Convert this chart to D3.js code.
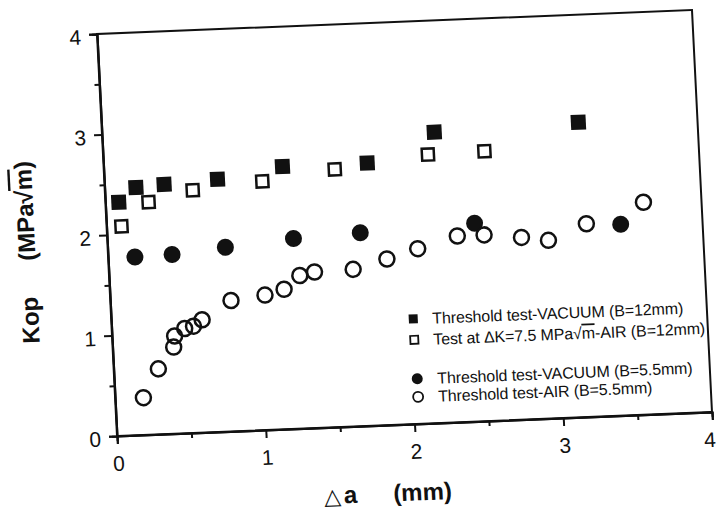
<!DOCTYPE html>
<html><head><meta charset="utf-8">
<script src="https://cdn.jsdelivr.net/npm/d3@7"></script>
<style>body{margin:0;background:#fff}svg{display:block}text{font-family:"Liberation Sans",Arial,sans-serif;fill:#111}</style>
</head><body>
<script>
// Data (Δa in mm, Kop in MPa√m)
const vacuum12X = [0.09,0.21,0.40,0.76,1.20,1.77,2.23,3.20];
const vacuum12Y = [2.32,2.46,2.48,2.51,2.61,2.61,2.89,2.93];
const air12X = [0.10,0.29,0.59,1.06,1.55,2.18,2.56];
const air12Y = [2.08,2.31,2.41,2.47,2.56,2.67,2.68];
const vacuum55X = [0.18,0.43,0.79,1.25,1.70,2.47,3.45];
const vacuum55Y = [1.77,1.78,1.83,1.89,1.92,1.97,1.90];
const air55X = [0.19,0.30,0.41,0.42,0.49,0.55,0.61,0.81,1.04,1.17,1.28,1.38,1.64,1.87,2.08,2.35,2.53,2.78,2.96,3.22,3.61];
const air55Y = [0.37,0.65,0.86,0.97,1.04,1.06,1.12,1.30,1.34,1.39,1.52,1.55,1.56,1.65,1.74,1.85,1.85,1.81,1.77,1.92,2.11];
const xTicks = [0,1,2,3,4];
const yTicks = [0,1,2,3,4];
const minorTicks = [0.5,1.5,2.5,3.5];
const legendLabels = ["Threshold test-VACUUM (B=12mm)","Test at ΔK=7.5 MPa√m-AIR (B=12mm)","Threshold test-VACUUM (B=5.5mm)","Threshold test-AIR (B=5.5mm)"];

const W=716,H=514, PW=596, PH=402;
const svg=d3.select("body").append("svg").attr("width",W).attr("height",H);
// slight skew/rotation as in the scanned figure
const g=svg.append("g").attr("transform","matrix(0.9983,-0.0403,0.04975,1,97,34)");
const x=d3.scaleLinear().domain([0,4]).range([0,PW]);
const y=d3.scaleLinear().domain([0,4]).range([PH,0]);

// frame
g.append("rect").attr("x",0).attr("y",0).attr("width",PW).attr("height",PH)
 .attr("fill","none").attr("stroke","#111").attr("stroke-width",2);

// axes
const xa=g.append("g").attr("transform",`translate(0,${PH})`)
 .call(d3.axisBottom(x).tickValues(xTicks).tickSize(8).tickPadding(12).tickFormat(d3.format("d")));
const xm=g.append("g").attr("transform",`translate(0,${PH})`)
 .call(d3.axisBottom(x).tickValues(minorTicks).tickSize(5).tickFormat(""));
const ya=g.append("g").call(d3.axisLeft(y).tickValues(yTicks).tickSize(8).tickPadding(8).tickFormat(d3.format("d")));
const ym=g.append("g").call(d3.axisLeft(y).tickValues(minorTicks).tickSize(5).tickFormat(""));
[xa,xm,ya,ym].forEach(a=>{a.select(".domain").attr("stroke","#111").attr("stroke-width",2);
 a.selectAll(".tick line").attr("stroke","#111").attr("stroke-width",2);
 a.selectAll("text").attr("font-size",21).attr("fill","#111").attr("font-family","Liberation Sans, Arial, sans-serif");});
ya.selectAll("text").attr("dy","0.45em");
xa.selectAll("text").filter(d=>d===4).attr("dx",-4);

// markers
function pts(xs,ys){return xs.map((v,i)=>({x:v,y:ys[i]}));}
g.selectAll(".sqf").data(pts(vacuum12X,vacuum12Y)).join("rect")
 .attr("x",d=>x(d.x)-7.5).attr("y",d=>y(d.y)-7.5).attr("width",15).attr("height",15).attr("fill","#111");
g.selectAll(".sqo").data(pts(air12X,air12Y)).join("rect")
 .attr("x",d=>x(d.x)-6).attr("y",d=>y(d.y)-6).attr("width",12).attr("height",12)
 .attr("fill","none").attr("stroke","#111").attr("stroke-width",2.5);
g.selectAll(".cf").data(pts(vacuum55X,vacuum55Y)).join("circle")
 .attr("cx",d=>x(d.x)).attr("cy",d=>y(d.y)).attr("r",8.5).attr("fill","#111");
g.selectAll(".co").data(pts(air55X,air55Y)).join("circle")
 .attr("cx",d=>x(d.x)).attr("cy",d=>y(d.y)).attr("r",7.5).attr("fill","none").attr("stroke","#111").attr("stroke-width",2.5);

// legend
const lg=g.append("g").attr("transform","translate(302,0)");
const rows=[297,318,357,375];
lg.append("rect").attr("x",-4.5).attr("y",rows[0]-4.5).attr("width",9).attr("height",9).attr("fill","#111");
lg.append("rect").attr("x",-4).attr("y",rows[1]-4).attr("width",8).attr("height",8).attr("fill","none").attr("stroke","#111").attr("stroke-width",1.8);
lg.append("circle").attr("cx",1).attr("cy",rows[2]).attr("r",5.5).attr("fill","#111");
lg.append("circle").attr("cx",1).attr("cy",rows[3]).attr("r",5).attr("fill","none").attr("stroke","#111").attr("stroke-width",1.8);
legendLabels.forEach((t,i)=>{
  const tx=lg.append("text").attr("x",i<2?19:21).attr("y",rows[i]).attr("dy","0.36em").attr("font-size",16).attr("letter-spacing",-0.1);
  const parts=t.split("√m");
  if(parts.length===2){
    tx.append("tspan").text(parts[0]+"√");
    tx.append("tspan").style("text-decoration","overline").text("m");
    tx.append("tspan").text(parts[1]);
  } else tx.text(t);
});

// axis titles
const yt=g.append("text").attr("transform","translate(-81,215) rotate(-90)")
 .attr("text-anchor","middle").attr("dy","0.35em").attr("font-size",24).attr("font-weight","bold");
yt.append("tspan").text("Kop");
yt.append("tspan").attr("dx",36).text("(MPa√");
yt.append("tspan").style("text-decoration","overline").text("m");
yt.append("tspan").text(")");

const xt=g.append("text").attr("x",268).attr("y",470).attr("dy","0.35em")
 .attr("text-anchor","middle").attr("font-size",24).attr("font-weight","bold");
xt.append("tspan").attr("font-weight","normal").attr("font-family","DejaVu Sans").attr("font-size",22).text("△");
xt.append("tspan").attr("dx",3).text("a");
xt.append("tspan").attr("dx",36).text("(mm)");
</script>
</body></html>
